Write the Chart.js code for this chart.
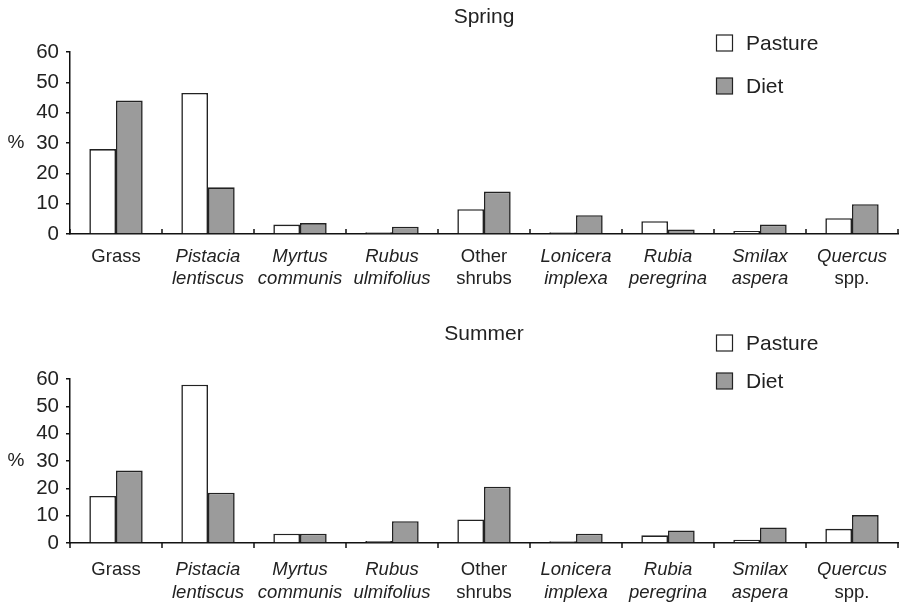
<!DOCTYPE html>
<html>
<head>
<meta charset="utf-8">
<script src="https://cdn.jsdelivr.net/npm/chart.js@4.4.1/dist/chart.umd.min.js"></script>
<style>
  html, body { margin: 0; padding: 0; background: #ffffff; }
  canvas { display: block; }
</style>
</head>
<body>
<canvas id="spring" width="906" height="300"></canvas>
<canvas id="summer" width="906" height="305"></canvas>
<script>
// ---- data ----
const categories = [
  ["Grass"],
  ["Pistacia", "lentiscus"],
  ["Myrtus", "communis"],
  ["Rubus", "ulmifolius"],
  ["Other", "shrubs"],
  ["Lonicera", "implexa"],
  ["Rubia", "peregrina"],
  ["Smilax", "aspera"],
  ["Quercus", "spp."]
];
const italicLines = [
  [false],
  [true, true],
  [true, true],
  [true, true],
  [false, false],
  [true, true],
  [true, true],
  [true, true],
  [true, false]
];
const seriesNames = ["Pasture", "Diet"];
const springPasture = [28, 46.5, 3.1, 0.6, 8.2, 0.6, 4.2, 1.0, 5.2];
const springDiet    = [44, 15.4, 3.6, 2.4, 14, 6.2, 1.5, 3.1, 9.8];
const summerPasture = [17.2, 57.9, 3.4, 0.7, 8.6, 0.6, 2.8, 1.2, 5.2];
const summerDiet    = [26.5, 18.4, 3.4, 8.0, 20.6, 3.4, 4.6, 5.7, 10.2];
const yTicks = [0, 10, 20, 30, 40, 50, 60];
const yUnit = "%";

// ---- style ----
const FONT = '"Liberation Sans", Arial, Helvetica, sans-serif';
const TEXT = '#222222';
const EDGE = '#222222';
const colors = ['#ffffff', '#9b9b9b'];

const annotPlugin = {
  id: 'annot',
  afterDraw(chart, args, o) {
    const ctx = chart.ctx;
    const xs = chart.scales.x, ys = chart.scales.y, ca = chart.chartArea;
    ctx.save();
    ctx.fillStyle = TEXT;
    ctx.textAlign = 'center';
    ctx.textBaseline = 'middle';
    // title
    ctx.font = '21px ' + FONT;
    ctx.fillText(o.title, (ca.left + ca.right) / 2, o.titleY);
    // unit label
    ctx.font = '19px ' + FONT;
    ctx.fillText(yUnit, 16, ys.getPixelForValue(30));
    // category labels
    categories.forEach((lines, i) => {
      const x = xs.getPixelForValue(i);
      lines.forEach((t, j) => {
        ctx.font = (italicLines[i][j] ? 'italic ' : '') + '18.5px ' + FONT;
        ctx.fillText(t, x, ca.bottom + o.lineY[j]);
      });
    });
    // category boundary ticks
    ctx.strokeStyle = '#111111';
    ctx.lineWidth = 1.5;
    for (let i = 0; i <= categories.length; i++) {
      const x = Math.round(xs.getPixelForValue(i - 0.5));
      ctx.beginPath();
      ctx.moveTo(x, ca.bottom);
      ctx.lineTo(x, ca.bottom + o.tickDir * 5);
      ctx.stroke();
    }
    // legend
    ctx.textAlign = 'left';
    ctx.font = '21px ' + FONT;
    chart.data.datasets.forEach((ds, k) => {
      const y = o.legendY[k];
      ctx.fillStyle = ds.backgroundColor;
      ctx.fillRect(716.5, y - 8, 16, 16);
      ctx.strokeStyle = EDGE;
      ctx.lineWidth = 1.2;
      ctx.strokeRect(716.5, y - 8, 16, 16);
      ctx.fillStyle = TEXT;
      ctx.fillText(ds.label, 746, y + 1);
    });
    ctx.restore();
  }
};

function makeChart(id, pasture, diet, opts) {
  return new Chart(document.getElementById(id), {
    type: 'bar',
    data: {
      labels: categories.map(l => l.join(' ')),
      datasets: [
        { label: seriesNames[0], data: pasture, backgroundColor: colors[0], borderColor: EDGE, borderWidth: 1.6 },
        { label: seriesNames[1], data: diet, backgroundColor: colors[1], borderColor: EDGE, borderWidth: 1.6 }
      ]
    },
    options: {
      responsive: false,
      animation: false,
      devicePixelRatio: 1,
      layout: { padding: { top: opts.top, right: 8, left: 0, bottom: 0 } },
      datasets: { bar: { categoryPercentage: 0.58, barPercentage: 1.0 } },
      plugins: {
        legend: { display: false },
        title: { display: false },
        tooltip: { enabled: false },
        annot: opts
      },
      scales: {
        x: {
          grid: { display: false },
          border: { display: true, color: '#111111', width: 1.5 },
          ticks: { display: false },
          afterFit: s => { s.height = opts.xH; }
        },
        y: {
          min: 0, max: 60,
          afterBuildTicks: s => { s.ticks = yTicks.map(v => ({ value: v })); },
          grid: { display: true, drawOnChartArea: false, drawTicks: true, tickLength: 4, color: '#111111', lineWidth: 1.5 },
          border: { display: true, color: '#111111', width: 1.5 },
          ticks: { color: TEXT, font: { family: FONT, size: 20.5 }, padding: 7, autoSkip: false },
          afterFit: s => { s.width = 70; }
        }
      }
    },
    plugins: [annotPlugin]
  });
}

makeChart('spring', springPasture, springDiet, {
  title: 'Spring', titleY: 17, top: 52, xH: 66,
  lineY: [23, 45], tickDir: -1, legendY: [43, 86]
});
makeChart('summer', summerPasture, summerDiet, {
  title: 'Summer', titleY: 34, top: 79, xH: 62,
  lineY: [27, 50], tickDir: 1, legendY: [43, 81]
});
</script>
</body>
</html>
